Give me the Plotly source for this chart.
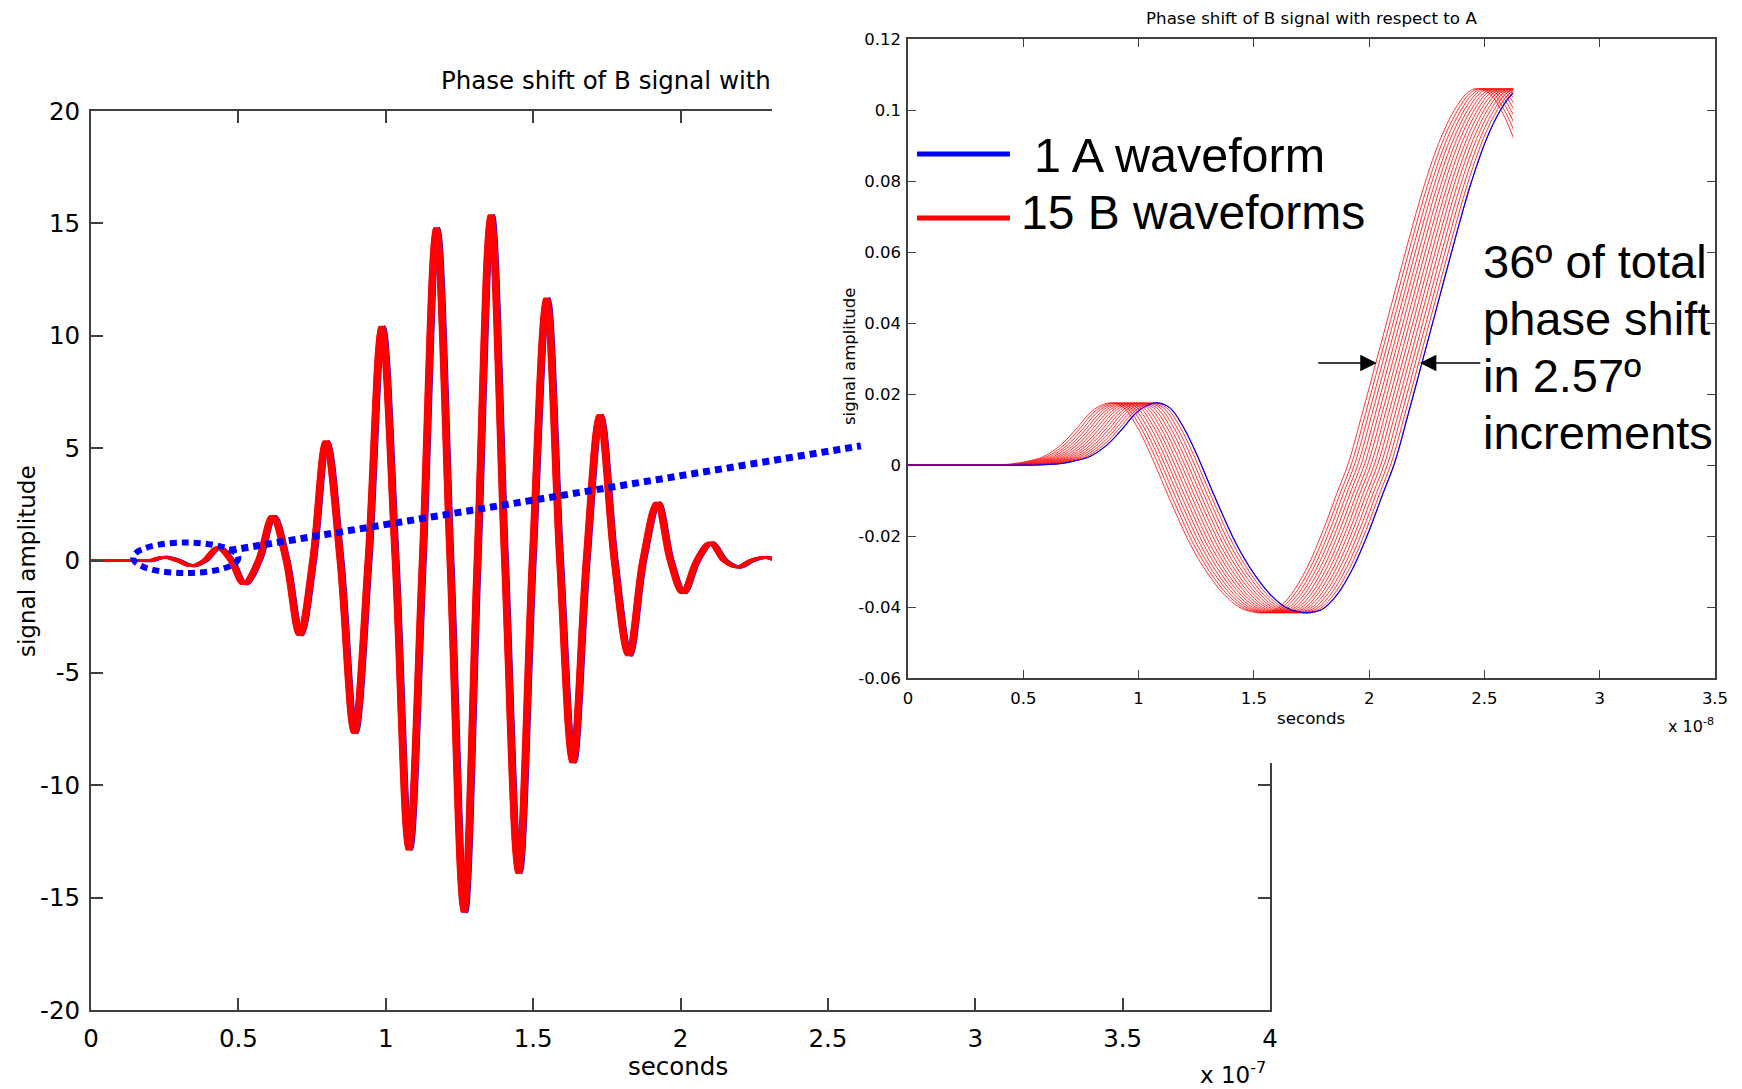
import plotly.graph_objects as go

W, H = 1742, 1089

# ---------------- data ----------------
# Left chart: A waveform, time in units of 1e-7 s
LEFT_T = [0.00, 0.16, 0.21, 0.256, 0.303, 0.35, 0.395, 0.441, 0.485, 0.529,
          0.578, 0.626, 0.672, 0.718, 0.762, 0.807, 0.855, 0.903, 0.95, 0.996,
          1.042, 1.088, 1.134, 1.181, 1.228, 1.275, 1.32, 1.366, 1.413, 1.460,
          1.507, 1.555, 1.60, 1.644, 1.69, 1.736, 1.785, 1.834, 1.882, 1.931,
          1.975, 2.018, 2.065, 2.112, 2.158, 2.204, 2.25, 2.296, 2.34, 2.39]
LEFT_A = [0, 0, 0, 0.16, 0, -0.24, 0, 0.58, 0, -1.05,
          0, 1.97, 0, -3.31, 0, 5.30, 0, -7.66, 0, 10.40,
          0, -12.86, 0, 14.78, 0, -15.63, 0, 15.36, 0, -13.90,
          0, 11.66, 0, -8.98, 0, 6.46, 0, -4.22, 0, 2.57,
          0, -1.44, 0, 0.79, 0, -0.30, 0, 0.14, 0, -0.05]
LEFT_TOTAL_SHIFT = 0.0185      # 36 deg of phase, in 1e-7 s
N_B = 15                       # number of B waveforms

# Inset: A waveform, time in units of 1e-8 s
INSET_T = [0.00, 0.45, 0.55, 0.65, 0.72, 0.789, 0.862, 0.934, 0.976, 1.02,
           1.078, 1.136, 1.194, 1.252, 1.30, 1.353, 1.425, 1.498, 1.570, 1.635,
           1.69, 1.743, 1.80, 1.86, 1.93, 2.00, 2.06, 2.11, 2.17, 2.23,
           2.30, 2.37, 2.44, 2.51, 2.57, 2.62, 2.66, 2.72, 2.78, 2.83, 2.90]
INSET_A = [0, 0, 0, 0.0003, 0.0011, 0.0024, 0.0056, 0.0105, 0.0138, 0.0162,
           0.0175, 0.0161, 0.0107, 0.0030, -0.0043, -0.0123, -0.0224, -0.0304, -0.0364, -0.0400,
           -0.0413, -0.0416, -0.0405, -0.0366, -0.0290, -0.0185, -0.0080, 0.0005, 0.0145, 0.0290,
           0.0460, 0.0630, 0.0790, 0.0920, 0.1000, 0.1045, 0.1060, 0.1048, 0.0990, 0.0915, 0.0800]
INSET_TOTAL_SHIFT = 0.20       # 36 deg of phase, in 1e-8 s
INSET_T_END = 2.625            # end of the recorded window

LEFT_XTICKS = [0, 0.5, 1, 1.5, 2, 2.5, 3, 3.5, 4]
LEFT_XTICKTEXT = ["0", "0.5", "1", "1.5", "2", "2.5", "3", "3.5", "4"]
LEFT_YTICKS = [-20, -15, -10, -5, 0, 5, 10, 15, 20]
LEFT_YTICKTEXT = ["-20", "-15", "-10", "-5", "0", "5", "10", "15", "20"]
INSET_XTICKS = [0, 0.5, 1, 1.5, 2, 2.5, 3, 3.5]
INSET_XTICKTEXT = ["0", "0.5", "1", "1.5", "2", "2.5", "3", "3.5"]
INSET_YTICKS = [-0.06, -0.04, -0.02, 0, 0.02, 0.04, 0.06, 0.08, 0.1, 0.12]
INSET_YTICKTEXT = ["-0.06", "-0.04", "-0.02", "0", "0.02", "0.04", "0.06", "0.08", "0.1", "0.12"]

ELLIPSE_X = [0.143, 0.50]
ELLIPSE_Y = [-0.56, 0.80]
POINTER_X = [0.47, 2.612]
POINTER_Y = [0.45, 5.1]
ARROW_TIPS_X = [2.033, 2.220]
ARROW_Y = 0.0287

# ---------------- layout helpers ----------------
def fx(p):
    return p / W


def fy(p):
    return 1 - p / H


LEFT_BOX = (91, 1270, 111, 1010)
COVER_BOX = (772, 1742, 0, 763)
INSET_BOX = (908, 1715, 39, 678)
INSET_XMAX = 3.5
inset_clip_right = INSET_BOX[0] + INSET_T_END / INSET_XMAX * (INSET_BOX[1] - INSET_BOX[0])

CHART_FONT = "DejaVu Sans"
NOTE_FONT = "Liberation Sans, Arial, sans-serif"
AXCOL = "#404040"

fig = go.Figure()

# ---- left chart ----
fig.add_trace(go.Scatter(x=LEFT_T, y=LEFT_A, mode="lines",
                         line=dict(color="#0000ff", width=3, shape="spline"),
                         xaxis="x", yaxis="y", hoverinfo="skip"))
for k in range(N_B):
    s = k * LEFT_TOTAL_SHIFT / (N_B - 1)
    fig.add_trace(go.Scatter(x=[t - s for t in LEFT_T], y=LEFT_A, mode="lines",
                             line=dict(color="#ff0000", width=2, shape="spline"),
                             xaxis="x", yaxis="y", hoverinfo="skip"))

# ---- cover (white panel behind inset) ----
fig.add_trace(go.Scatter(x=[None], y=[None], xaxis="x2", yaxis="y2", hoverinfo="skip"))
# ---- inset axes ----
fig.add_trace(go.Scatter(x=[None], y=[None], xaxis="x3", yaxis="y3", hoverinfo="skip"))
# ---- inset traces (clipped at end of window) ----
for k in range(N_B):
    s = k * INSET_TOTAL_SHIFT / (N_B - 1)
    fig.add_trace(go.Scatter(x=[t - s for t in INSET_T], y=INSET_A, mode="lines",
                             line=dict(color="#ff0000", width=0.8, shape="spline"),
                             xaxis="x4", yaxis="y4", hoverinfo="skip"))
fig.add_trace(go.Scatter(x=INSET_T, y=INSET_A, mode="lines",
                         line=dict(color="#0000ff", width=1.2, shape="spline"),
                         xaxis="x4", yaxis="y4", hoverinfo="skip"))

common_ax = dict(showgrid=False, zeroline=False, showline=True, linecolor=AXCOL,
                 ticks="inside", tickcolor=AXCOL, mirror="ticks", automargin=False)

fig.update_layout(
    width=W, height=H, margin=dict(l=0, r=0, t=0, b=0, autoexpand=False),
    paper_bgcolor="white", plot_bgcolor="rgba(0,0,0,0)", showlegend=False,
    xaxis=dict(domain=[fx(LEFT_BOX[0]), fx(LEFT_BOX[1])], range=[0, 4], anchor="y",
               tickvals=LEFT_XTICKS, ticktext=LEFT_XTICKTEXT, ticklen=12, tickwidth=1.5,
               linewidth=2, tickfont=dict(family=CHART_FONT, size=24.5, color="black"),
               ticklabelstandoff=6, **common_ax),
    yaxis=dict(domain=[fy(LEFT_BOX[3]), fy(LEFT_BOX[2])], range=[-20, 20], anchor="x",
               tickvals=LEFT_YTICKS, ticktext=LEFT_YTICKTEXT, ticklen=12, tickwidth=1.5,
               linewidth=2, tickfont=dict(family=CHART_FONT, size=24.5, color="black"),
               ticklabelstandoff=4, **common_ax),
    xaxis2=dict(domain=[fx(COVER_BOX[0]), fx(COVER_BOX[1])], range=[0, 1], anchor="y2",
                visible=False, automargin=False),
    yaxis2=dict(domain=[fy(COVER_BOX[3]), fy(COVER_BOX[2])], range=[0, 1], anchor="x2",
                visible=False, automargin=False),
    xaxis3=dict(domain=[fx(INSET_BOX[0]), fx(INSET_BOX[1])], range=[0, INSET_XMAX], anchor="y3",
                tickvals=INSET_XTICKS, ticktext=INSET_XTICKTEXT, ticklen=8, tickwidth=1,
                linewidth=1.5, tickfont=dict(family=CHART_FONT, size=16.5, color="black"),
                ticklabelstandoff=4, **common_ax),
    yaxis3=dict(domain=[fy(INSET_BOX[3]), fy(INSET_BOX[2])], range=[-0.06, 0.12], anchor="x3",
                tickvals=INSET_YTICKS, ticktext=INSET_YTICKTEXT, ticklen=8, tickwidth=1,
                linewidth=1.5, tickfont=dict(family=CHART_FONT, size=16.5, color="black"),
                ticklabelstandoff=2, **common_ax),
    xaxis4=dict(domain=[fx(INSET_BOX[0]), fx(inset_clip_right)], range=[0, INSET_T_END],
                anchor="y4", visible=False, automargin=False),
    yaxis4=dict(domain=[fy(INSET_BOX[3]), fy(INSET_BOX[2])], range=[-0.06, 0.12],
                anchor="x4", visible=False, automargin=False),
)

dot = "7px,5px"
shapes = [
    dict(type="rect", xref="x2", yref="y2", x0=0, x1=1, y0=0, y1=1,
         fillcolor="white", line=dict(width=0), layer="below"),
    dict(type="circle", xref="x", yref="y", x0=ELLIPSE_X[0], x1=ELLIPSE_X[1],
         y0=ELLIPSE_Y[0], y1=ELLIPSE_Y[1], line=dict(color="#0000ff", width=6, dash=dot),
         layer="above"),
    dict(type="line", xref="x", yref="y", x0=POINTER_X[0], x1=POINTER_X[1],
         y0=POINTER_Y[0], y1=POINTER_Y[1], line=dict(color="#0000ff", width=7, dash=dot),
         layer="above"),
    dict(type="line", xref="paper", yref="paper", x0=fx(917), x1=fx(1010), y0=fy(154), y1=fy(154),
         line=dict(color="#0000ff", width=5), layer="above"),
    dict(type="line", xref="paper", yref="paper", x0=fx(917), x1=fx(1010), y0=fy(218), y1=fy(218),
         line=dict(color="#ff0000", width=5), layer="above"),
]
fig.update_layout(shapes=shapes)


def ann(text, x, y, size, family=CHART_FONT, xanchor="center", yanchor="middle", angle=0):
    return dict(text=text, x=fx(x), y=fy(y), xref="paper", yref="paper", showarrow=False,
                xanchor=xanchor, yanchor=yanchor, textangle=angle,
                font=dict(family=family, size=size, color="black"))


annotations = [
    ann("Phase shift of B signal with", 439, 81, 24.5, xanchor="left"),
    ann("seconds", 678, 1066, 24.5),
    ann("signal amplitude", 27, 561, 23, angle=-90),
    ann("x 10<sup>-7</sup>", 1268, 1073, 23, xanchor="right"),
    ann("Phase shift of B signal with respect to A", 1311, 18, 16.7),
    ann("seconds", 1311, 718, 16.7),
    ann("signal amplitude", 849, 357, 16.5, angle=-90),
    ann("x 10<sup>-8</sup>", 1716, 725, 16, xanchor="right"),
    ann("1 A waveform", 1032, 155, 48.5, family=NOTE_FONT, xanchor="left"),
    ann("15 B waveforms", 1019, 212, 48, family=NOTE_FONT, xanchor="left"),
    ann("36º of total", 1481, 261, 47, family=NOTE_FONT, xanchor="left"),
    ann("phase shift", 1481, 318, 47, family=NOTE_FONT, xanchor="left"),
    ann("in 2.57º", 1481, 375, 47, family=NOTE_FONT, xanchor="left"),
    ann("increments", 1481, 432, 47, family=NOTE_FONT, xanchor="left"),
]
for tip, dx in zip(ARROW_TIPS_X, [-60, 62]):
    annotations.append(dict(text="", x=tip, y=ARROW_Y, xref="x3", yref="y3",
                            showarrow=True, ax=dx, ay=0, arrowhead=2, arrowsize=2.2,
                            arrowwidth=1.5, arrowcolor="black", standoff=0))
fig.update_layout(annotations=annotations)

fig.write_html("out.html")
